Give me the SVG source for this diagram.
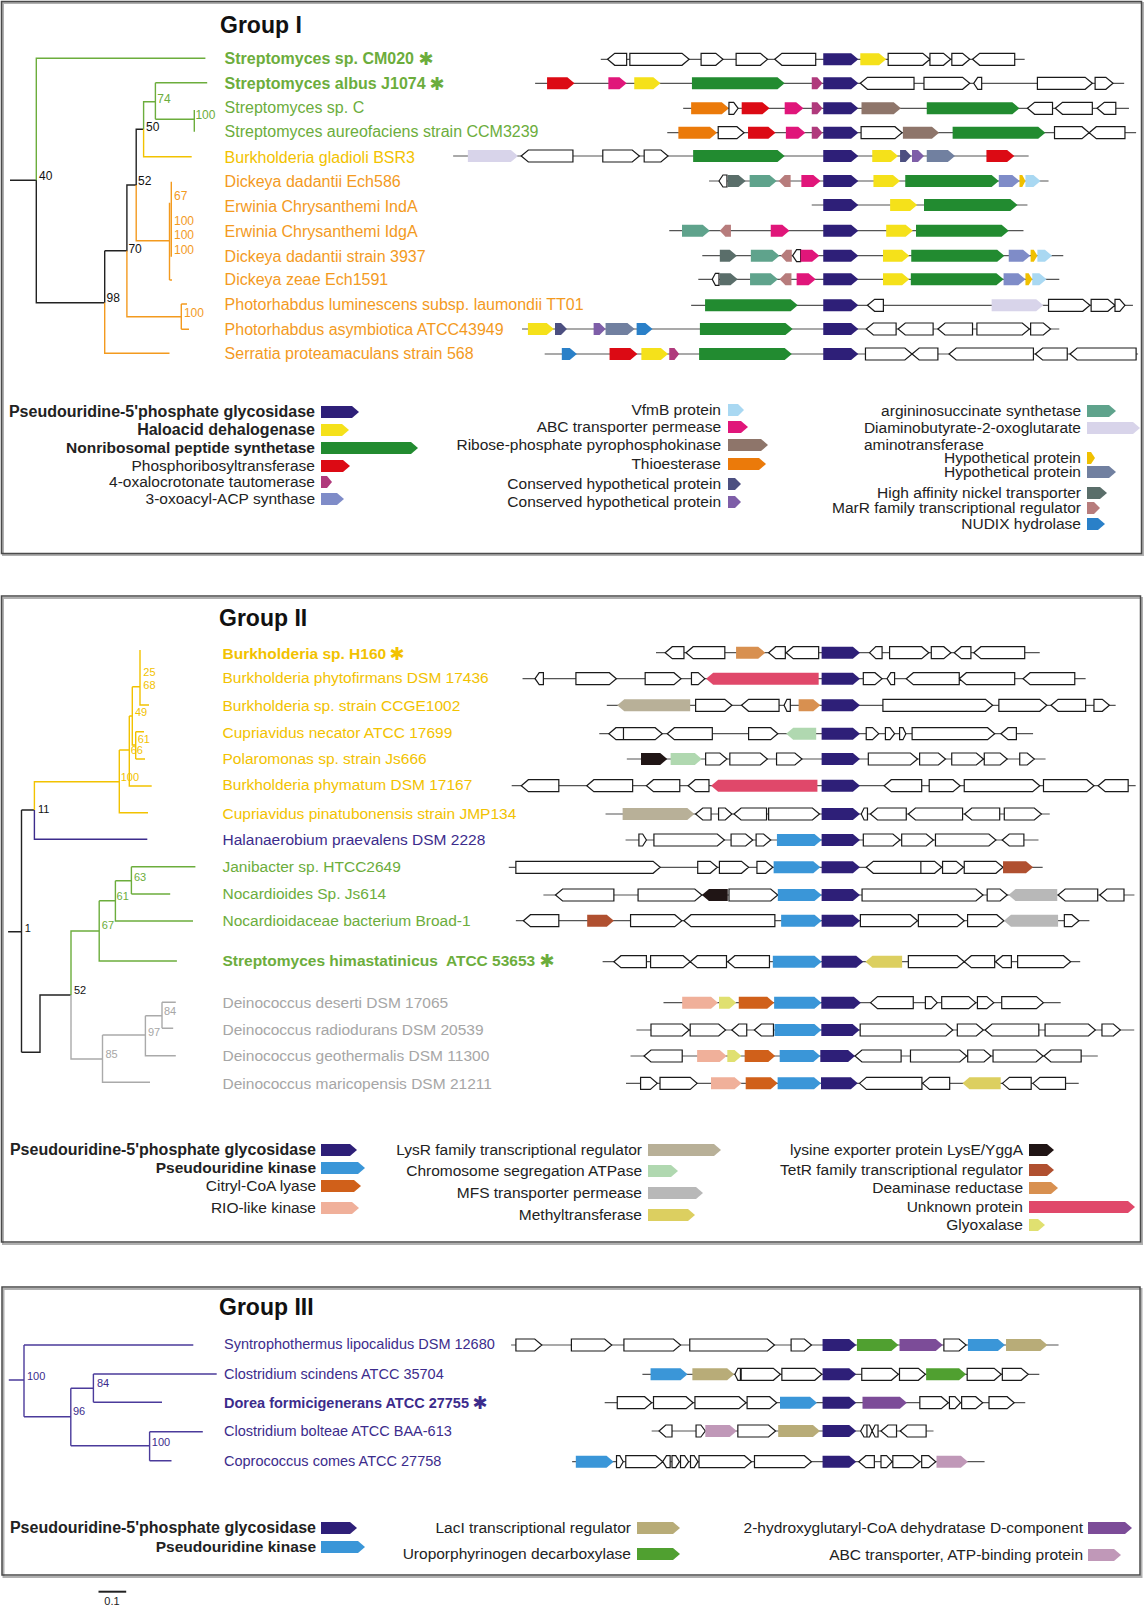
<svg xmlns="http://www.w3.org/2000/svg" xmlns:xlink="http://www.w3.org/1999/xlink" width="1144" height="1607" viewBox="0 0 1144 1607">
<style>
text{font-family:"Liberation Sans",Arial,sans-serif}
.t1{font-size:16px}.t2{font-size:15.5px}.t3{font-size:14.5px}
.lg{font-size:15.5px;fill:#222;text-anchor:end}
.lgs{font-size:15.5px;fill:#222;text-anchor:start}
.b{font-weight:bold}
.big{font-size:16px}
.bs{font-size:12px}
.bs2{font-size:11px}
.ast{font-family:"DejaVu Sans",sans-serif;font-size:18px;text-anchor:middle}
.ttl{font-size:23px;font-weight:bold;fill:#111}
.box{fill:none;stroke:#4a4a4a;stroke-width:1.5}
.shd{fill:none;stroke:#b0b0b0;stroke-width:2}
.ln{stroke:#555;stroke-width:1.2;vector-effect:non-scaling-stroke}
.w{fill:#fff;stroke:#1a1a1a;stroke-width:1.2;vector-effect:non-scaling-stroke}
.tr{fill:none;stroke-width:1.4}
.ps{fill:#2e1f78}.yl{fill:#f5e11a}.gr{fill:#228b30}.rd{fill:#dc0a14}.ta{fill:#b03a7c}.ox{fill:#7f8cc8}
.vf{fill:#a9d8f2}.pk{fill:#e0167a}.br{fill:#8e756a}.or{fill:#eb7a0a}.c1{fill:#4c4f80}.c2{fill:#7e5ea8}
.tl{fill:#5fa38c}.lv{fill:#d8d4ea}.gd{fill:#f0c000}.h2{fill:#7180a0}.ni{fill:#5a6e6a}.mr{fill:#b77c7c}.nu{fill:#2a80c8}
.ki{fill:#3a96d8}.ci{fill:#d0601a}.ri{fill:#f0b09a}.ly{fill:#b8b098}.ch{fill:#b0d8b0}.mf{fill:#b8b8b8}
.me{fill:#dccf60}.lx{fill:#201515}.te{fill:#b05030}.de{fill:#d89050}.un{fill:#e0486a}.gx{fill:#e0e070}
.la{fill:#b8ac78}.ur{fill:#50a030}.hg{fill:#7c4c98}.ab{fill:#c098b8}
.cg{fill:#6cad3c}.cy{fill:#f2c200}.co{fill:#f39a1e}.cp{fill:#3c2c8c}.ce{fill:#a6a6a6}.ck{fill:#111}
</style>
<defs>
<path id="pA" class="ps" d="M762,-18 832,-18 850,0 832,18 762,18Z"/>
<path id="tA" class="ta" d="M733,-18 747,-18 760,0 747,18 733,18Z"/>
<path id="pB" class="ps" d="M795,-18 870,-18 887,0 870,18 795,18Z"/>
<path id="pC" class="ps" d="M872,-18 944,-18 963,0 944,18 872,18Z"/>
</defs>
<rect width="1144" height="1607" fill="#fff"/>

<!-- panel boxes -->
<g id="panels">
<rect class="shd" x="3" y="3" width="1140" height="552"/>
<rect class="box" x="1.5" y="1.5" width="1140" height="552"/>
<rect class="shd" x="3" y="598" width="1139" height="646"/>
<rect class="box" x="1.5" y="596" width="1139" height="646"/>
<rect class="shd" x="3.5" y="1289" width="1138" height="288"/>
<rect class="box" x="2" y="1287" width="1138" height="288"/>
<text class="ttl" x="220" y="33">Group I</text>
<text class="ttl" x="219" y="626">Group II</text>
<text class="ttl" x="219" y="1315">Group III</text>
</g>

<!-- tree connectors -->
<g id="connectors">
<path class="tr" stroke="#222" d="M10,180.3H36.3V302.7H104.7M104.7,250.7V302.7M104.7,250.7H126.9V185H136.2V129.3H143.6"/>
<path class="tr" stroke="#6cad3c" d="M36.3,180.3V58.3H205.4M143.6,129.3V101.7H155.4M155.4,82.7V119.3M155.4,82.7H207.2M155.4,119.3H194.3M194.3,110V131.7"/>
<path class="tr" stroke="#f2c200" d="M143.6,129.3V156.7H191.7"/>
<path class="tr" stroke="#f39a1e" d="M104.7,302.7V353.3H169.5M126.9,250.7V316.7H181.3M181.3,304V329.3M181.3,304H187M181.3,329.3H189M136.2,185V240.7H169.5M169.5,202.7V280M169.5,280H172M171.3,181.7V256.7"/>
<g class="bs">
<text class="ck" x="39" y="180">40</text><text class="ck" x="106.6" y="302">98</text><text class="ck" x="128.4" y="252.5">70</text>
<text class="ck" x="138" y="185">52</text><text class="ck" x="146" y="131">50</text>
<text class="cg" x="157.3" y="102.5">74</text><text class="cg" x="195.4" y="119">100</text>
<text class="co" x="174" y="200">67</text><text class="co" x="174" y="225">100</text><text class="co" x="174" y="239">100</text><text class="co" x="174" y="253.5">100</text><text class="co" x="183.9" y="316.5">100</text>
</g>

<path class="tr" stroke="#222" d="M8.1,931.7H21.5M21.5,810V1052.3M21.5,810H34.4M21.5,1052.3H40V995H71"/>
<path class="tr" stroke="#f2c200" d="M34.4,810V781.7H119.3M119.3,750V812.7H148M119.3,750H129.3M129.3,716V786H151.7M129.3,716H132.3M132.3,686.7V745H135.7M135.7,731.7V759M135.7,731.7H144M135.7,759H145M132.3,686.7H140M140,650V705H149"/>
<path class="tr" stroke="#3c2c8c" d="M34.4,810V839.3H147.3"/>
<path class="tr" stroke="#6cad3c" d="M71,995V931H99.2M99.2,900.7V961H176.9M99.2,900.7H115.4M115.4,880.7V921H193M115.4,880.7H131.4M131.4,866.7V894M131.4,866.7H195.4M131.4,894H170.2"/>
<path class="tr" stroke="#aaa" d="M71,995V1059H102.5M102.5,1035V1082.3H150M102.5,1035H145.4M145.4,1015.7V1055.7H175.8M145.4,1015.7H162M162,1002.3V1028.3M162,1002.3H175.8M162,1028.3H173.2"/>
<g class="bs2">
<text class="ck" x="24.8" y="932">1</text><text class="ck" x="38" y="812.5">11</text><text class="ck" x="74" y="994">52</text>
<text class="cy" x="120.7" y="781">100</text><text class="cy" x="130.7" y="753.5">66</text><text class="cy" x="137.7" y="742.5">61</text>
<text class="cy" x="135" y="716">49</text><text class="cy" x="143.3" y="689">68</text><text class="cy" x="143.3" y="675.5">25</text>
<text class="cg" x="101.8" y="929">67</text><text class="cg" x="116.6" y="900">61</text><text class="cg" x="134" y="881">63</text>
<text class="ce" x="105.5" y="1057.5">85</text><text class="ce" x="148" y="1036">97</text><text class="ce" x="164" y="1015">84</text>
</g>

<path class="tr" stroke="#4b3b9b" stroke-width="2" d="M8.8,1380H24M24,1345V1416.7M24,1345H193.3M24,1416.7H70.8M70.8,1388.3V1445.7M70.8,1388.3H93.4M93.4,1374V1402.3M93.4,1374H216.7M93.4,1402.3H162M70.8,1445.7H149.6M149.6,1431.7V1460.7M149.6,1431.7H202.8M149.6,1460.7H171.5"/>
<g class="bs2">
<text class="cp" x="27" y="1380">100</text><text class="cp" x="97" y="1387">84</text><text class="cp" x="73" y="1415">96</text><text class="cp" x="151.8" y="1446">100</text>
</g>
<path stroke="#222" stroke-width="2" d="M98.5,1591.7H126.2"/>
<text x="112" y="1605" font-size="11" text-anchor="middle" fill="#222">0.1</text>
</g>

<!-- Group I rows -->
<g id="g1-CM020"><text class="t1 b cg" x="224.6" y="64">Streptomyces sp. CM020</text><text class="ast cg" x="426" y="65">✱</text>
<g transform="matrix(0.398,0,0,0.3333,520,59.33)"><line class="ln" x1="203" x2="1268"/>
<path class="w" d="M220,0 238,-18 268,-18 268,18 238,18Z M276,-18 407,-18 425,0 407,18 276,18Z M455,-18 492,-18 510,0 492,18 455,18Z M543,-18 604,-18 622,0 604,18 543,18Z M640,0 658,-18 743,-18 743,18 658,18Z M925,-18 1012,-18 1030,0 1012,18 925,18Z M1030,-18 1064,-18 1082,0 1064,18 1030,18Z M1085,-18 1112,-18 1130,0 1112,18 1085,18Z M1137,0 1155,-18 1243,-18 1243,18 1155,18Z"/>
<use xlink:href="#pA"/><path class="yl" d="M855,-18 902,-18 920,0 902,18 855,18Z"/></g></g>

<g id="g1-albus"><text class="t1 b cg" x="224.6" y="88.5">Streptomyces albus J1074</text><text class="ast cg" x="437" y="89.5">✱</text>
<g transform="matrix(0.398,0,0,0.3333,520,83.33)"><line class="ln" x1="38" x2="1518"/>
<path class="rd" d="M68,-18 119,-18 137,0 119,18 68,18Z"/><path class="pk" d="M222,-18 250,-18 268,0 250,18 222,18Z"/><path class="yl" d="M287,-18 335,-18 353,0 335,18 287,18Z"/><path class="gr" d="M432,-18 647,-18 665,0 647,18 432,18Z"/><use xlink:href="#tA"/><use xlink:href="#pA"/>
<path class="w" d="M855,0 873,-18 990,-18 990,18 873,18Z M1015,-18 1112,-18 1130,0 1112,18 1015,18Z M1140,0 1150,-18 1160,-18 1160,18 1150,18Z M1300,-18 1420,-18 1438,0 1420,18 1300,18Z M1445,-18 1472,-18 1490,0 1472,18 1445,18Z"/></g></g>

<g id="g1-spC"><text class="t1 cg" x="224.6" y="112.5">Streptomyces sp. C</text>
<g transform="matrix(0.398,0,0,0.3333,520,108.33)"><line class="ln" x1="410" x2="1530"/>
<path class="or" d="M430,-18 507,-18 525,0 507,18 430,18Z"/><path class="w" d="M525,-18 537,-18 548,0 537,18 525,18Z M1275,0 1293,-18 1338,-18 1338,18 1293,18Z M1345,0 1363,-18 1438,-18 1438,18 1363,18Z M1450,0 1468,-18 1497,-18 1497,18 1468,18Z"/>
<path class="rd" d="M557,-18 609,-18 627,0 609,18 557,18Z"/><path class="pk" d="M665,-18 694,-18 712,0 694,18 665,18Z"/><use xlink:href="#tA"/><use xlink:href="#pA"/>
<path class="br" d="M858,-18 939,-18 957,0 939,18 858,18Z"/><path class="gr" d="M1022,-18 1237,-18 1255,0 1237,18 1022,18Z"/></g></g>

<g id="g1-aureofaciens"><text class="t1 cg" x="224.6" y="137">Streptomyces aureofaciens strain CCM3239</text>
<g transform="matrix(0.398,0,0,0.3333,520,132.67)"><line class="ln" x1="370" x2="1548"/>
<path class="or" d="M398,-18 477,-18 495,0 477,18 398,18Z"/><path class="w" d="M498,-18 545,-18 563,0 545,18 498,18Z M857,-18 942,-18 960,0 942,18 857,18Z M1343,-18 1412,-18 1430,0 1412,18 1343,18Z M1430,0 1448,-18 1520,-18 1520,18 1448,18Z"/>
<path class="rd" d="M573,-18 624,-18 642,0 624,18 573,18Z"/><path class="pk" d="M668,-18 699,-18 717,0 699,18 668,18Z"/><use xlink:href="#tA"/><use xlink:href="#pA"/>
<path class="br" d="M962,-18 1035,-18 1053,0 1035,18 962,18Z"/><path class="gr" d="M1087,-18 1302,-18 1320,0 1302,18 1087,18Z"/></g></g>

<g id="g1-gladioli"><text class="t1 cy" x="224.6" y="162.5">Burkholderia gladioli BSR3</text>
<g transform="matrix(0.398,0,0,0.3333,520,156)"><line class="ln" x1="-168" x2="1278"/>
<path class="lv" d="M-131,-18 -23,-18 -5,0 -23,18 -131,18Z"/><path class="w" d="M3,0 21,-18 133,-18 133,18 21,18Z M208,-18 282,-18 300,0 282,18 208,18Z M312,-18 354,-18 372,0 354,18 312,18Z"/>
<path class="gr" d="M435,-18 647,-18 665,0 647,18 435,18Z"/><use xlink:href="#pA"/><path class="yl" d="M885,-18 932,-18 950,0 932,18 885,18Z"/>
<path class="c1" d="M955,-18 969,-18 983,0 969,18 955,18Z"/><path class="c2" d="M985,-18 1000,-18 1015,0 1000,18 985,18Z"/><path class="h2" d="M1022,-18 1075,-18 1093,0 1075,18 1022,18Z"/><path class="rd" d="M1172,-18 1224,-18 1242,0 1224,18 1172,18Z"/></g></g>

<g id="g1-Ech586"><text class="t1 co" x="224.6" y="187">Dickeya dadantii Ech586</text>
<g transform="matrix(0.398,0,0,0.3333,520,181)"><line class="ln" x1="475" x2="1328"/>
<path class="w" d="M500,0 510,-18 520,-18 520,18 510,18Z"/><path class="ni" d="M522,-18 549,-18 567,0 549,18 522,18Z"/><path class="tl" d="M577,-18 627,-18 645,0 627,18 577,18Z"/><path class="mr" d="M650,0 665,-18 680,-18 680,18 665,18Z"/>
<path class="pk" d="M707,-18 737,-18 755,0 737,18 707,18Z"/><use xlink:href="#pA"/><path class="yl" d="M888,-18 937,-18 955,0 937,18 888,18Z"/><path class="gr" d="M968,-18 1185,-18 1203,0 1185,18 968,18Z"/>
<path class="ox" d="M1203,-18 1237,-18 1255,0 1237,18 1203,18Z"/><path class="gd" d="M1255,-18 1262,-18 1270,0 1262,18 1255,18Z"/><path class="vf" d="M1270,-18 1290,-18 1308,0 1290,18 1270,18Z"/></g></g>

<g id="g1-IndA"><text class="t1 co" x="224.6" y="212">Erwinia Chrysanthemi IndA</text>
<g transform="matrix(0.398,0,0,0.3333,520,205)"><line class="ln" x1="733" x2="1275"/>
<use xlink:href="#pA"/><path class="yl" d="M930,-18 980,-18 998,0 980,18 930,18Z"/><path class="gr" d="M1015,-18 1232,-18 1250,0 1232,18 1015,18Z"/></g></g>

<g id="g1-IdgA"><text class="t1 co" x="224.6" y="236.5">Erwinia Chrysanthemi IdgA</text>
<g transform="matrix(0.398,0,0,0.3333,520,230.67)"><line class="ln" x1="375" x2="1265"/>
<path class="tl" d="M407,-18 459,-18 477,0 459,18 407,18Z"/><path class="mr" d="M502,0 516,-18 530,-18 530,18 516,18Z"/><path class="pk" d="M630,-18 659,-18 677,0 659,18 630,18Z"/><use xlink:href="#pA"/>
<path class="yl" d="M920,-18 969,-18 987,0 969,18 920,18Z"/><path class="gr" d="M995,-18 1210,-18 1228,0 1210,18 995,18Z"/></g></g>

<g id="g1-3937"><text class="t1 co" x="224.6" y="261.5">Dickeya dadantii strain 3937</text>
<g transform="matrix(0.398,0,0,0.3333,520,255.67)"><line class="ln" x1="458" x2="1365"/>
<path class="ni" d="M502,-18 527,-18 545,0 527,18 502,18Z"/><path class="tl" d="M580,-18 634,-18 652,0 634,18 580,18Z"/><path class="mr" d="M655,0 669,-18 683,-18 683,18 669,18Z"/><path class="w" d="M685,0 695,-18 705,-18 705,18 695,18Z"/>
<path class="pk" d="M705,-18 734,-18 752,0 734,18 705,18Z"/><use xlink:href="#pA"/><path class="yl" d="M912,-18 960,-18 978,0 960,18 912,18Z"/><path class="gr" d="M983,-18 1199,-18 1217,0 1199,18 983,18Z"/>
<path class="ox" d="M1228,-18 1264,-18 1282,0 1264,18 1228,18Z"/><path class="gd" d="M1283,-18 1291,-18 1300,0 1291,18 1283,18Z"/><path class="vf" d="M1300,-18 1319,-18 1337,0 1319,18 1300,18Z"/></g></g>

<g id="g1-zeae"><text class="t1 co" x="224.6" y="285">Dickeya zeae Ech1591</text>
<g transform="matrix(0.398,0,0,0.3333,520,279.33)"><line class="ln" x1="448" x2="1355"/>
<path class="w" d="M483,0 491,-18 500,-18 500,18 491,18Z"/><path class="ni" d="M502,-18 529,-18 547,0 529,18 502,18Z"/><path class="tl" d="M578,-18 630,-18 648,0 630,18 578,18Z"/><path class="mr" d="M652,0 667,-18 682,-18 682,18 667,18Z"/>
<path class="pk" d="M695,-18 725,-18 743,0 725,18 695,18Z"/><use xlink:href="#pA"/><path class="yl" d="M912,-18 960,-18 978,0 960,18 912,18Z"/><path class="gr" d="M982,-18 1197,-18 1215,0 1197,18 982,18Z"/>
<path class="ox" d="M1215,-18 1252,-18 1270,0 1252,18 1215,18Z"/><path class="gd" d="M1270,-18 1278,-18 1287,0 1278,18 1270,18Z"/><path class="vf" d="M1287,-18 1305,-18 1323,0 1305,18 1287,18Z"/></g></g>

<g id="g1-TT01"><text class="t1 co" x="224.6" y="310">Photorhabdus luminescens subsp. laumondii TT01</text>
<g transform="matrix(0.398,0,0,0.3333,520,305.33)"><line class="ln" x1="430" x2="1540"/>
<path class="gr" d="M465,-18 680,-18 698,0 680,18 465,18Z"/><use xlink:href="#pA"/><path class="lv" d="M1185,-18 1297,-18 1315,0 1297,18 1185,18Z"/>
<path class="w" d="M873,0 891,-18 913,-18 913,18 891,18Z M1328,-18 1414,-18 1432,0 1414,18 1328,18Z M1435,-18 1477,-18 1495,0 1477,18 1435,18Z M1495,-18 1507,-18 1520,0 1507,18 1495,18Z"/></g></g>

<g id="g1-asymbiotica"><text class="t1 co" x="224.6" y="335">Photorhabdus asymbiotica ATCC43949</text>
<g transform="matrix(0.398,0,0,0.3333,520,329)"><line class="ln" x1="5" x2="1355"/>
<path class="yl" d="M20,-18 67,-18 85,0 67,18 20,18Z"/><path class="c1" d="M88,-18 103,-18 118,0 103,18 88,18Z"/><path class="c2" d="M185,-18 200,-18 215,0 200,18 185,18Z"/><path class="h2" d="M215,-18 270,-18 288,0 270,18 215,18Z"/><path class="nu" d="M293,-18 315,-18 333,0 315,18 293,18Z"/>
<path class="gr" d="M452,-18 667,-18 685,0 667,18 452,18Z"/><use xlink:href="#pA"/>
<path class="w" d="M870,0 888,-18 945,-18 945,18 888,18Z M950,0 968,-18 1038,-18 1038,18 968,18Z M1050,0 1068,-18 1137,-18 1137,18 1068,18Z M1148,-18 1262,-18 1280,0 1262,18 1148,18Z M1283,-18 1315,-18 1333,0 1315,18 1283,18Z"/></g></g>

<g id="g1-Serratia"><text class="t1 co" x="224.6" y="358.5">Serratia proteamaculans strain 568</text>
<g transform="matrix(0.398,0,0,0.3333,520,354)"><line class="ln" x1="62" x2="1553"/>
<path class="nu" d="M105,-18 125,-18 143,0 125,18 105,18Z"/><path class="rd" d="M225,-18 277,-18 295,0 277,18 225,18Z"/><path class="yl" d="M305,-18 354,-18 372,0 354,18 305,18Z"/><path class="ta" d="M375,-18 388,-18 400,0 388,18 375,18Z"/>
<path class="gr" d="M450,-18 665,-18 683,0 665,18 450,18Z"/><use xlink:href="#pA"/>
<path class="w" d="M868,-18 967,-18 985,0 967,18 868,18Z M985,0 1003,-18 1050,-18 1050,18 1003,18Z M1078,0 1096,-18 1290,-18 1290,18 1096,18Z M1295,0 1313,-18 1375,-18 1375,18 1313,18Z M1382,0 1400,-18 1548,-18 1548,18 1400,18Z"/></g></g>

<!-- Group I legend -->
<g id="legend1">
<text class="lg b big" x="315" y="417">Pseudouridine-5'phosphate glycosidase</text><path class="ps" d="M321,406 352,406 359,412 352,418 321,418Z"/>
<text class="lg b big" x="315" y="435">Haloacid dehalogenase</text><path class="yl" d="M321,424 342,424 349,430 342,436 321,436Z"/>
<text class="lg b" x="315" y="453">Nonribosomal peptide synthetase</text><path class="gr" d="M321,442 411,442 418,448 411,454 321,454Z"/>
<text class="lg" x="315" y="471">Phosphoribosyltransferase</text><path class="rd" d="M321,460 343,460 350,466 343,472 321,472Z"/>
<text class="lg" x="315" y="487">4-oxalocrotonate tautomerase</text><path class="ta" d="M321,476 327,476 332,482 327,488 321,488Z"/>
<text class="lg" x="315" y="504">3-oxoacyl-ACP synthase</text><path class="ox" d="M321,493 337,493 344,499 337,505 321,505Z"/>
<text class="lg" x="721" y="415">VfmB protein</text><path class="vf" d="M728,404 738,404 744,410 738,416 728,416Z"/>
<text class="lg" x="721" y="432">ABC transporter permease</text><path class="pk" d="M728,421 741,421 748,427 741,433 728,433Z"/>
<text class="lg" x="721" y="450">Ribose-phosphate pyrophosphokinase</text><path class="br" d="M728,439 761,439 768,445 761,451 728,451Z"/>
<text class="lg" x="721" y="469">Thioesterase</text><path class="or" d="M728,458 759,458 766,464 759,470 728,470Z"/>
<text class="lg" x="721" y="489">Conserved hypothetical protein</text><path class="c1" d="M728,478 735,478 741,484 735,490 728,490Z"/>
<text class="lg" x="721" y="507">Conserved hypothetical protein</text><path class="c2" d="M728,496 735,496 741,502 735,508 728,508Z"/>
<text class="lg" x="1081" y="416">argininosuccinate synthetase</text><path class="tl" d="M1087,405 1109,405 1116,411 1109,417 1087,417Z"/>
<text class="lg" x="1081" y="433">Diaminobutyrate-2-oxoglutarate</text><text class="lgs" x="864" y="450">aminotransferase</text><path class="lv" d="M1087,422 1133,422 1140,428 1133,434 1087,434Z"/>
<text class="lg" x="1081" y="463">Hypothetical protein</text><path class="gd" d="M1087,452 1091,452 1095,458 1091,464 1087,464Z"/>
<text class="lg" x="1081" y="477">Hypothetical protein</text><path class="h2" d="M1087,466 1109,466 1116,472 1109,478 1087,478Z"/>
<text class="lg" x="1081" y="498">High affinity nickel transporter</text><path class="ni" d="M1087,487 1100,487 1107,493 1100,499 1087,499Z"/>
<text class="lg" x="1081" y="513">MarR family transcriptional regulator</text><path class="mr" d="M1087,502 1094,502 1100,508 1094,514 1087,514Z"/>
<text class="lg" x="1081" y="529">NUDIX hydrolase</text><path class="nu" d="M1087,518 1098,518 1105,524 1098,530 1087,530Z"/>
</g>

<!-- Group II rows -->
<g id="g2-H160"><text class="t2 b cy" x="222.5" y="658.5">Burkholderia sp. H160</text><text class="ast cy" x="397" y="659.5">✱</text>
<g transform="matrix(0.4171,0,0,0.3333,490,652.67)"><line class="ln" x1="398" x2="1318"/>
<path class="w" d="M420,0 437,-18 465,-18 465,18 437,18Z M470,0 487,-18 563,-18 563,18 487,18Z M668,0 685,-18 708,-18 708,18 685,18Z M710,0 727,-18 788,-18 788,18 727,18Z M910,0 925,-18 940,-18 940,18 925,18Z M958,-18 1035,-18 1052,0 1035,18 958,18Z M1058,-18 1088,-18 1105,0 1088,18 1058,18Z M1113,0 1130,-18 1153,-18 1153,18 1130,18Z M1160,0 1177,-18 1282,-18 1282,18 1177,18Z"/>
<path class="de" d="M590,-18 643,-18 660,0 643,18 590,18Z"/><use xlink:href="#pB"/></g></g>

<g id="g2-phytofirmans"><text class="t2 cy" x="222.5" y="683">Burkholderia phytofirmans DSM 17436</text>
<g transform="matrix(0.4171,0,0,0.3333,490,678.67)"><line class="ln" x1="78" x2="1428"/>
<path class="w" d="M108,0 118,-18 128,-18 128,18 118,18Z M206,-18 286,-18 303,0 286,18 206,18Z M372,-18 441,-18 458,0 441,18 372,18Z M483,-18 499,-18 515,0 499,18 483,18Z M895,-18 923,-18 940,0 923,18 895,18Z M952,0 961,-18 970,-18 970,18 961,18Z M998,0 1015,-18 1125,-18 1125,18 1015,18Z M1125,0 1142,-18 1258,-18 1258,18 1142,18Z M1278,0 1295,-18 1402,-18 1402,18 1295,18Z"/>
<path class="un" d="M518,0 535,-18 788,-18 788,18 535,18Z"/><use xlink:href="#pB"/></g></g>

<g id="g2-CCGE1002"><text class="t2 cy" x="222.5" y="710.5">Burkholderia sp. strain CCGE1002</text>
<g transform="matrix(0.4171,0,0,0.3333,490,705.33)"><line class="ln" x1="280" x2="1500"/>
<path class="ly" d="M305,0 322,-18 480,-18 480,18 322,18Z"/>
<path class="w" d="M493,-18 563,-18 580,0 563,18 493,18Z M603,0 620,-18 693,-18 693,18 620,18Z M705,0 712,-18 720,-18 720,18 712,18Z M942,-18 1188,-18 1205,0 1188,18 942,18Z M1220,-18 1318,-18 1335,0 1318,18 1220,18Z M1345,0 1362,-18 1428,-18 1428,18 1362,18Z M1448,-18 1468,-18 1485,0 1468,18 1448,18Z"/>
<path class="de" d="M740,-18 775,-18 792,0 775,18 740,18Z"/><use xlink:href="#pB"/></g></g>

<g id="g2-necator"><text class="t2 cy" x="222.5" y="738">Cupriavidus necator ATCC 17699</text>
<g transform="matrix(0.4171,0,0,0.3333,490,733.67)"><line class="ln" x1="262" x2="1302"/>
<path class="w" d="M285,0 302,-18 320,-18 320,18 302,18Z M320,-18 396,-18 413,0 396,18 320,18Z M425,0 442,-18 533,-18 533,18 442,18Z M620,-18 673,-18 690,0 673,18 620,18Z M902,-18 917,-18 932,0 917,18 902,18Z M948,-18 959,-18 970,0 959,18 948,18Z M982,-18 990,-18 997,0 990,18 982,18Z M1012,-18 1193,-18 1210,0 1193,18 1012,18Z M1225,0 1242,-18 1262,-18 1262,18 1242,18Z"/>
<path class="ch" d="M710,0 727,-18 782,-18 782,18 727,18Z"/><use xlink:href="#pB"/></g></g>

<g id="g2-Polaromonas"><text class="t2 cy" x="222.5" y="763.5">Polaromonas sp. strain Js666</text>
<g transform="matrix(0.4171,0,0,0.3333,490,759)"><line class="ln" x1="328" x2="1332"/>
<path class="lx" d="M362,-18 408,-18 425,0 408,18 362,18Z"/><path class="ch" d="M433,-18 491,-18 508,0 491,18 433,18Z"/>
<path class="w" d="M517,-18 551,-18 568,0 551,18 517,18Z M575,-18 648,-18 665,0 648,18 575,18Z M687,-18 731,-18 748,0 731,18 687,18Z M907,-18 1008,-18 1025,0 1008,18 907,18Z M1030,-18 1075,-18 1092,0 1075,18 1030,18Z M1107,-18 1166,-18 1183,0 1166,18 1107,18Z M1185,-18 1223,-18 1240,0 1223,18 1185,18Z M1270,-18 1288,-18 1305,0 1288,18 1270,18Z"/>
<use xlink:href="#pB"/></g></g>

<g id="g2-phymatum"><text class="t2 cy" x="222.5" y="789.5">Burkholderia phymatum DSM 17167</text>
<g transform="matrix(0.4171,0,0,0.3333,490,785.67)"><line class="ln" x1="52" x2="1548"/>
<path class="w" d="M75,0 92,-18 165,-18 165,18 92,18Z M232,0 249,-18 342,-18 342,18 249,18Z M375,0 392,-18 455,-18 455,18 392,18Z M475,0 492,-18 525,-18 525,18 492,18Z M945,0 962,-18 1035,-18 1035,18 962,18Z M1053,-18 1110,-18 1127,0 1110,18 1053,18Z M1137,-18 1301,-18 1318,0 1301,18 1137,18Z M1327,-18 1431,-18 1448,0 1431,18 1327,18Z M1458,0 1475,-18 1530,-18 1530,18 1475,18Z"/>
<path class="un" d="M530,0 547,-18 785,-18 785,18 547,18Z"/><use xlink:href="#pB"/></g></g>

<g id="g2-pinatubonensis"><text class="t2 cy" x="222.5" y="818.5">Cupriavidus pinatubonensis strain JMP134</text>
<g transform="matrix(0.4171,0,0,0.3333,490,814)"><line class="ln" x1="277" x2="1342"/>
<path class="ly" d="M318,-18 473,-18 490,0 473,18 318,18Z"/>
<path class="w" d="M493,0 510,-18 530,-18 530,18 510,18Z M548,-18 564,-18 580,0 564,18 548,18Z M585,0 602,-18 663,-18 663,18 602,18Z M668,-18 773,-18 790,0 773,18 668,18Z M890,0 897,-18 905,-18 905,18 897,18Z M912,0 929,-18 998,-18 998,18 929,18Z M1003,0 1020,-18 1133,-18 1133,18 1020,18Z M1138,0 1155,-18 1222,-18 1222,18 1155,18Z M1233,-18 1305,-18 1322,0 1305,18 1233,18Z"/>
<use xlink:href="#pB"/></g></g>

<g id="g2-Halanaerobium"><text class="t2 cp" x="222.5" y="844.5">Halanaerobium praevalens DSM 2228</text>
<g transform="matrix(0.4171,0,0,0.3333,490,840)"><line class="ln" x1="325" x2="1315"/>
<path class="w" d="M357,-18 366,-18 375,0 366,18 357,18Z M393,-18 545,-18 562,0 545,18 393,18Z M578,-18 613,-18 630,0 613,18 578,18Z M638,-18 656,-18 673,0 656,18 638,18Z M895,-18 966,-18 983,0 966,18 895,18Z M987,-18 1046,-18 1063,0 1046,18 987,18Z M1068,-18 1196,-18 1213,0 1196,18 1068,18Z M1228,0 1245,-18 1280,-18 1280,18 1245,18Z"/>
<path class="ki" d="M688,-18 778,-18 795,0 778,18 688,18Z"/><use xlink:href="#pB"/></g></g>

<g id="g2-Janibacter"><text class="t2 cg" x="222.5" y="872">Janibacter sp. HTCC2649</text>
<g transform="matrix(0.4171,0,0,0.3333,490,867.33)"><line class="ln" x1="45" x2="1325"/>
<path class="w" d="M62,-18 391,-18 408,0 391,18 62,18Z M498,-18 528,-18 545,0 528,18 498,18Z M550,-18 603,-18 620,0 603,18 550,18Z M640,-18 661,-18 678,0 661,18 640,18Z M902,0 919,-18 1033,-18 1033,18 919,18Z M1033,-18 1066,-18 1083,0 1066,18 1033,18Z M1085,-18 1118,-18 1135,0 1118,18 1085,18Z M1137,-18 1213,-18 1230,0 1213,18 1137,18Z"/>
<path class="ki" d="M680,-18 775,-18 792,0 775,18 680,18Z"/><path class="te" d="M1230,-18 1285,-18 1302,0 1285,18 1230,18Z"/><use xlink:href="#pB"/></g></g>

<g id="g2-Nocardioides"><text class="t2 cg" x="222.5" y="898.5">Nocardioides Sp. Js614</text>
<g transform="matrix(0.4171,0,0,0.3333,490,895)"><line class="ln" x1="128" x2="1545"/>
<path class="w" d="M157,0 174,-18 297,-18 297,18 174,18Z M355,-18 491,-18 508,0 491,18 355,18Z M573,-18 673,-18 690,0 673,18 573,18Z M892,-18 1165,-18 1182,0 1165,18 892,18Z M1192,-18 1223,-18 1240,0 1223,18 1192,18Z M1362,0 1379,-18 1457,-18 1457,18 1379,18Z M1462,0 1479,-18 1520,-18 1520,18 1479,18Z"/>
<path class="lx" d="M508,0 525,-18 570,-18 570,18 525,18Z"/><path class="ki" d="M690,-18 778,-18 795,0 778,18 690,18Z"/><path class="mf" d="M1243,0 1260,-18 1360,-18 1360,18 1260,18Z"/><use xlink:href="#pB"/></g></g>

<g id="g2-Nocardioidaceae"><text class="t2 cg" x="222.5" y="926">Nocardioidaceae bacterium Broad-1</text>
<g transform="matrix(0.4171,0,0,0.3333,490,920.67)"><line class="ln" x1="62" x2="1437"/>
<path class="w" d="M80,0 97,-18 165,-18 165,18 97,18Z M337,-18 443,-18 460,0 443,18 337,18Z M465,0 482,-18 683,-18 683,18 482,18Z M888,-18 1008,-18 1025,0 1008,18 888,18Z M1027,-18 1120,-18 1137,0 1120,18 1027,18Z M1145,-18 1215,-18 1232,0 1215,18 1145,18Z M1377,-18 1395,-18 1412,0 1395,18 1377,18Z"/>
<path class="te" d="M233,-18 280,-18 297,0 280,18 233,18Z"/><path class="ki" d="M698,-18 778,-18 795,0 778,18 698,18Z"/><path class="mf" d="M1232,0 1249,-18 1362,-18 1362,18 1249,18Z"/><use xlink:href="#pB"/></g></g>

<g id="g2-himastatinicus"><text class="t2 b cg" x="222.5" y="966" xml:space="preserve">Streptomyces himastatinicus  ATCC 53653</text><text class="ast cg" x="547" y="967">✱</text>
<g transform="matrix(0.4171,0,0,0.3333,490,961.67)"><line class="ln" x1="270" x2="1415"/>
<path class="w" d="M297,0 314,-18 375,-18 375,18 314,18Z M385,-18 463,-18 480,0 463,18 385,18Z M480,0 497,-18 567,-18 567,18 497,18Z M570,0 587,-18 670,-18 670,18 587,18Z M1003,-18 1120,-18 1137,0 1120,18 1003,18Z M1137,0 1154,-18 1210,-18 1210,18 1154,18Z M1212,0 1229,-18 1250,-18 1250,18 1229,18Z M1265,-18 1375,-18 1392,0 1375,18 1265,18Z"/>
<path class="ki" d="M678,-18 778,-18 795,0 778,18 678,18Z"/><path class="ps" d="M795,-18 878,-18 895,0 878,18 795,18Z"/><path class="me" d="M900,0 917,-18 988,-18 988,18 917,18Z"/></g></g>

<g id="g2-deserti"><text class="t2 ce" x="222.5" y="1007.5">Deinococcus deserti DSM 17065</text>
<g transform="matrix(0.3469,0,0,0.3333,600,1002.67)"><line class="ln" x1="183" x2="1328"/>
<path class="ri" d="M237,-18 320,-18 340,0 320,18 237,18Z"/><path class="gx" d="M343,-18 373,-18 393,0 373,18 343,18Z"/><path class="ci" d="M400,-18 482,-18 502,0 482,18 400,18Z"/><path class="ki" d="M502,-18 618,-18 638,0 618,18 502,18Z"/><path class="ps" d="M638,-18 732,-18 752,0 732,18 638,18Z"/>
<path class="w" d="M780,0 800,-18 903,-18 903,18 800,18Z M938,-18 955,-18 972,0 955,18 938,18Z M985,-18 1063,-18 1083,0 1063,18 985,18Z M1088,-18 1115,-18 1135,0 1115,18 1088,18Z M1158,-18 1258,-18 1278,0 1258,18 1158,18Z"/></g></g>

<g id="g2-radiodurans"><text class="t2 ce" x="222.5" y="1034.5">Deinococcus radiodurans DSM 20539</text>
<g transform="matrix(0.3469,0,0,0.3333,600,1030)"><line class="ln" x1="105" x2="1540"/>
<path class="w" d="M147,-18 237,-18 257,0 237,18 147,18Z M260,-18 342,-18 362,0 342,18 260,18Z M380,0 400,-18 423,-18 423,18 400,18Z M445,0 465,-18 500,-18 500,18 465,18Z M750,-18 997,-18 1017,0 997,18 750,18Z M1030,-18 1085,-18 1105,0 1085,18 1030,18Z M1110,0 1130,-18 1265,-18 1265,18 1130,18Z M1283,-18 1408,-18 1428,0 1408,18 1283,18Z M1447,-18 1480,-18 1500,0 1480,18 1447,18Z"/>
<path class="ki" d="M503,-18 618,-18 638,0 618,18 503,18Z"/><path class="ps" d="M638,-18 728,-18 748,0 728,18 638,18Z"/></g></g>

<g id="g2-geothermalis"><text class="t2 ce" x="222.5" y="1060.5">Deinococcus geothermalis DSM 11300</text>
<g transform="matrix(0.3469,0,0,0.3333,600,1056)"><line class="ln" x1="88" x2="1435"/>
<path class="w" d="M127,0 147,-18 237,-18 237,18 147,18Z M735,0 755,-18 868,-18 868,18 755,18Z M895,-18 1037,-18 1057,0 1037,18 895,18Z M1060,-18 1107,-18 1127,0 1107,18 1060,18Z M1133,-18 1257,-18 1277,0 1257,18 1133,18Z M1280,0 1300,-18 1387,-18 1387,18 1300,18Z"/>
<path class="ri" d="M280,-18 345,-18 365,0 345,18 280,18Z"/><path class="gx" d="M367,-18 388,-18 408,0 388,18 367,18Z"/><path class="ci" d="M417,-18 485,-18 505,0 485,18 417,18Z"/><path class="ki" d="M518,-18 615,-18 635,0 615,18 518,18Z"/><path class="ps" d="M635,-18 715,-18 735,0 715,18 635,18Z"/></g></g>

<g id="g2-maricopensis"><text class="t2 ce" x="222.5" y="1088.5">Deinococcus maricopensis DSM 21211</text>
<g transform="matrix(0.3469,0,0,0.3333,600,1083.33)"><line class="ln" x1="75" x2="1380"/>
<path class="w" d="M117,-18 145,-18 165,0 145,18 117,18Z M173,-18 260,-18 280,0 260,18 173,18Z M748,0 768,-18 928,-18 928,18 768,18Z M930,0 950,-18 1008,-18 1008,18 950,18Z M1160,0 1180,-18 1243,-18 1243,18 1180,18Z M1248,0 1268,-18 1342,-18 1342,18 1268,18Z"/>
<path class="ri" d="M320,-18 388,-18 408,0 388,18 320,18Z"/><path class="ci" d="M420,-18 492,-18 512,0 492,18 420,18Z"/><path class="ki" d="M512,-18 617,-18 637,0 617,18 512,18Z"/><path class="ps" d="M637,-18 723,-18 743,0 723,18 637,18Z"/><path class="me" d="M1045,0 1065,-18 1155,-18 1155,18 1065,18Z"/></g></g>

<!-- Group II legend -->
<g id="legend2">
<text class="lg b big" x="316" y="1155">Pseudouridine-5'phosphate glycosidase</text><path class="ps" d="M321,1144 350,1144 357,1150 350,1156 321,1156Z"/>
<text class="lg b" x="316" y="1173">Pseudouridine kinase</text><path class="ki" d="M321,1162 358,1162 365,1168 358,1174 321,1174Z"/>
<text class="lg" x="316" y="1191">Citryl-CoA lyase</text><path class="ci" d="M321,1180 354,1180 361,1186 354,1192 321,1192Z"/>
<text class="lg" x="316" y="1213">RIO-like kinase</text><path class="ri" d="M321,1202 352,1202 359,1208 352,1214 321,1214Z"/>
<text class="lg" x="642" y="1155">LysR family transcriptional regulator</text><path class="ly" d="M648,1144 714,1144 721,1150 714,1156 648,1156Z"/>
<text class="lg" x="642" y="1176">Chromosome segregation ATPase</text><path class="ch" d="M648,1165 671,1165 678,1171 671,1177 648,1177Z"/>
<text class="lg" x="642" y="1198">MFS transporter permease</text><path class="mf" d="M648,1187 696,1187 703,1193 696,1199 648,1199Z"/>
<text class="lg" x="642" y="1220">Methyltransferase</text><path class="me" d="M648,1209 688,1209 695,1215 688,1221 648,1221Z"/>
<text class="lg" x="1023" y="1155">lysine exporter protein LysE/YggA</text><path class="lx" d="M1029,1144 1047,1144 1054,1150 1047,1156 1029,1156Z"/>
<text class="lg" x="1023" y="1175">TetR family transcriptional regulator</text><path class="te" d="M1029,1164 1047,1164 1054,1170 1047,1176 1029,1176Z"/>
<text class="lg" x="1023" y="1193">Deaminase reductase</text><path class="de" d="M1029,1182 1051,1182 1058,1188 1051,1194 1029,1194Z"/>
<text class="lg" x="1023" y="1212">Unknown protein</text><path class="un" d="M1029,1201 1128,1201 1135,1207 1128,1213 1029,1213Z"/>
<text class="lg" x="1023" y="1230">Glyoxalase</text><path class="gx" d="M1029,1219 1038,1219 1045,1225 1038,1231 1029,1231Z"/>
</g>

<!-- Group III rows -->
<g id="g3-Syntrophothermus"><text class="t3 cp" x="224" y="1349">Syntrophothermus lipocalidus DSM 12680</text>
<g transform="matrix(0.3699,0,0,0.3333,500,1345)"><line class="ln" x1="30" x2="1510"/>
<path class="w" d="M43,-18 94,-18 113,0 94,18 43,18Z M193,-18 283,-18 302,0 283,18 193,18Z M335,-18 469,-18 488,0 469,18 335,18Z M513,-18 723,-18 742,0 723,18 513,18Z M787,-18 823,-18 842,0 823,18 787,18Z M1200,-18 1241,-18 1260,0 1241,18 1200,18Z"/>
<use xlink:href="#pC"/><path class="ur" d="M965,-18 1058,-18 1077,0 1058,18 965,18Z"/><path class="hg" d="M1080,-18 1178,-18 1197,0 1178,18 1080,18Z"/><path class="ki" d="M1265,-18 1346,-18 1365,0 1346,18 1265,18Z"/><path class="la" d="M1368,-18 1461,-18 1480,0 1461,18 1368,18Z"/></g></g>

<g id="g3-scindens"><text class="t3 cp" x="224" y="1379">Clostridium scindens ATCC 35704</text>
<g transform="matrix(0.3699,0,0,0.3333,500,1374.33)"><line class="ln" x1="385" x2="1458"/>
<path class="ki" d="M407,-18 488,-18 507,0 488,18 407,18Z"/><path class="la" d="M520,-18 614,-18 633,0 614,18 520,18Z"/>
<path class="w" d="M635,0 643,-18 650,-18 650,18 643,18Z M652,-18 739,-18 758,0 739,18 652,18Z M762,-18 851,-18 870,0 851,18 762,18Z M978,-18 1058,-18 1077,0 1058,18 978,18Z M1080,-18 1131,-18 1150,0 1131,18 1080,18Z M1263,-18 1336,-18 1355,0 1336,18 1263,18Z M1358,-18 1409,-18 1428,0 1409,18 1358,18Z"/>
<use xlink:href="#pC"/><path class="ur" d="M1152,-18 1241,-18 1260,0 1241,18 1152,18Z"/></g></g>

<g id="g3-Dorea"><text class="t3 b cp" x="224" y="1408">Dorea formicigenerans ATCC 27755</text><text class="ast cp" x="480" y="1409">✱</text>
<g transform="matrix(0.3699,0,0,0.3333,500,1402.67)"><line class="ln" x1="283" x2="1420"/>
<path class="w" d="M317,-18 391,-18 410,0 391,18 317,18Z M415,-18 503,-18 522,0 503,18 415,18Z M527,-18 646,-18 665,0 646,18 527,18Z M668,-18 729,-18 748,0 729,18 668,18Z M1135,-18 1193,-18 1212,0 1193,18 1135,18Z M1215,-18 1230,-18 1245,0 1230,18 1215,18Z M1248,-18 1286,-18 1305,0 1286,18 1248,18Z M1322,-18 1371,-18 1390,0 1371,18 1322,18Z"/>
<path class="ki" d="M757,-18 838,-18 857,0 838,18 757,18Z"/><use xlink:href="#pC"/><path class="hg" d="M980,-18 1081,-18 1100,0 1081,18 980,18Z"/></g></g>

<g id="g3-bolteae"><text class="t3 cp" x="224" y="1436">Clostridium bolteae ATCC BAA-613</text>
<g transform="matrix(0.3699,0,0,0.3333,500,1431)"><line class="ln" x1="410" x2="1172"/>
<path class="w" d="M430,0 448,-18 465,-18 465,18 448,18Z M530,-18 543,-18 555,0 543,18 530,18Z M643,-18 726,-18 745,0 726,18 643,18Z M975,0 984,-18 992,-18 992,18 984,18Z M992,-18 999,-18 1006,0 999,18 992,18Z M1006,0 1014,-18 1022,-18 1022,18 1014,18Z M1030,0 1049,-18 1072,-18 1072,18 1049,18Z M1082,0 1101,-18 1152,-18 1152,18 1101,18Z"/>
<path class="ab" d="M555,-18 621,-18 640,0 621,18 555,18Z"/><path class="la" d="M752,-18 846,-18 865,0 846,18 752,18Z"/><use xlink:href="#pC"/></g></g>

<g id="g3-Coprococcus"><text class="t3 cp" x="224" y="1466">Coprococcus comes ATCC 27758</text>
<g transform="matrix(0.3699,0,0,0.3333,500,1461.67)"><line class="ln" x1="195" x2="1310"/>
<path class="ki" d="M205,-18 288,-18 307,0 288,18 205,18Z"/>
<path class="w" d="M315,-18 324,-18 333,0 324,18 315,18Z M340,-18 421,-18 440,0 421,18 340,18Z M440,0 450,-18 460,-18 460,18 450,18Z M465,-18 475,-18 485,0 475,18 465,18Z M488,-18 499,-18 510,0 499,18 488,18Z M515,-18 525,-18 535,0 525,18 515,18Z M538,-18 661,-18 680,0 661,18 538,18Z M688,-18 823,-18 842,0 823,18 688,18Z M970,0 989,-18 1012,-18 1012,18 989,18Z M1030,-18 1045,-18 1060,0 1045,18 1030,18Z M1062,-18 1116,-18 1135,0 1116,18 1062,18Z M1140,-18 1159,-18 1178,0 1159,18 1140,18Z"/>
<use xlink:href="#pC"/><path class="ab" d="M1180,-18 1246,-18 1265,0 1246,18 1180,18Z"/></g></g>

<!-- Group III legend -->
<g id="legend3">
<text class="lg b big" x="316" y="1533">Pseudouridine-5'phosphate glycosidase</text><path class="ps" d="M321,1522 350,1522 357,1528 350,1534 321,1534Z"/>
<text class="lg b" x="316" y="1552">Pseudouridine kinase</text><path class="ki" d="M321,1541 358,1541 365,1547 358,1553 321,1553Z"/>
<text class="lg" x="631" y="1533">LacI transcriptional regulator</text><path class="la" d="M637,1522 673,1522 680,1528 673,1534 637,1534Z"/>
<text class="lg" x="631" y="1559">Uroporphyrinogen decarboxylase</text><path class="ur" d="M637,1548 673,1548 680,1554 673,1560 637,1560Z"/>
<text class="lg" x="1083" y="1533">2-hydroxyglutaryl-CoA dehydratase D-component</text><path class="hg" d="M1088,1522 1125,1522 1132,1528 1125,1534 1088,1534Z"/>
<text class="lg" x="1083" y="1560">ABC transporter, ATP-binding protein</text><path class="ab" d="M1088,1549 1114,1549 1121,1555 1114,1561 1088,1561Z"/>
</g>
</svg>
